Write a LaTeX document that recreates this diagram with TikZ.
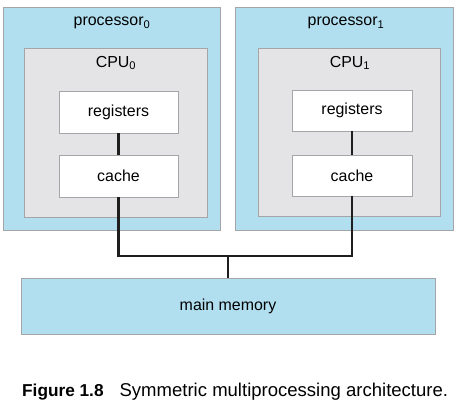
\documentclass[tikz,border=0pt]{standalone}
\usepackage{fontspec}
\setmainfont{Liberation Sans}
\definecolor{procblue}{RGB}{178,223,240}
\definecolor{cpugray}{RGB}{228,228,230}
\definecolor{edgegray}{RGB}{165,165,168}
\definecolor{wire}{RGB}{30,30,30}
\begin{document}
\begin{tikzpicture}[x=1bp,y=-1bp,
  box/.style={draw=edgegray,line width=1bp,inner sep=0pt,outer sep=0pt,anchor=north west},
  procbox/.style={box,fill=procblue},
  cpubox/.style={box,fill=cpugray},
  unitbox/.style={box,fill=white,font=\fontsize{16}{19}\selectfont},
  lbl/.style={font=\fontsize{16}{19}\selectfont,inner sep=0pt},
  conn/.style={draw=wire,line width=2.2bp}]
\useasboundingbox (0,0) rectangle (464,406);
% processor 0
\node[procbox,minimum width=217bp,minimum height=223bp] (p0) at (3.5,7) {};
\node[lbl] (p0l) at (112,23) {processor\textsubscript{0}};
\node[cpubox,minimum width=183bp,minimum height=169bp] (c0) at (24,48) {};
\node[lbl] (c0l) at (116,63) {CPU\textsubscript{0}};
\node[unitbox,minimum width=119bp,minimum height=42bp] (r0) at (59,91) {};
\node[lbl] at (r0.center) (r0l) {registers};
\node[unitbox,minimum width=119bp,minimum height=42bp] (k0) at (59,155) {};
\node[lbl] at (k0.center) (k0l) {cache};
% processor 1
\node[procbox,minimum width=218bp,minimum height=223bp] (p1) at (235.5,7) {};
\node[lbl] (p1l) at (346,23) {processor\textsubscript{1}};
\node[cpubox,minimum width=182bp,minimum height=168bp] (c1) at (258,48) {};
\node[lbl] (c1l) at (350,63) {CPU\textsubscript{1}};
\node[unitbox,minimum width=120bp,minimum height=41bp] (r1) at (292,90) {};
\node[lbl] at (r1.center) (r1l) {registers};
\node[unitbox,minimum width=120bp,minimum height=41bp] (k1) at (292,155) {};
\node[lbl] at (k1.center) (k1l) {cache};
% main memory
\node[procbox,minimum width=414bp,minimum height=56bp] (mm) at (21,278) {};
\node[lbl] at (mm.center) (mml) {main memory};
% connectors
\coordinate (bus) at (228,256);
\draw[conn] (r0.south) -- (k0.north);
\draw[conn] (r1.south) -- (k1.north);
\draw[conn] (k0.south) -- (k0.south |- bus) -- (k1.south |- bus) -- (k1.south);
\draw[conn] (bus) -- (bus |- mm.north);
% caption
\node[anchor=base west,inner sep=0pt,font=\fontsize{17.3}{20}\selectfont] (cap) at (22,396)
  {\textbf{Figure 1.8}\hspace{16bp}{\fontsize{18.6}{21}\selectfont Symmetric multiprocessing architecture.}};
\end{tikzpicture}
\end{document}
